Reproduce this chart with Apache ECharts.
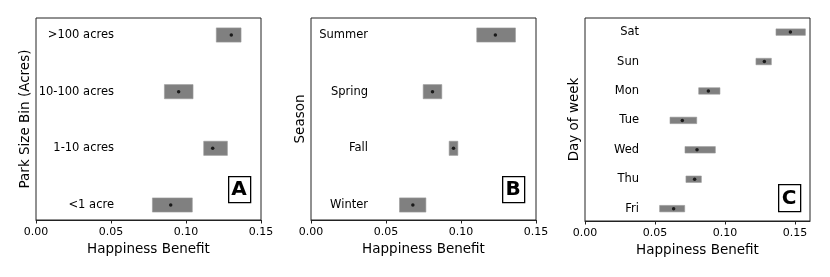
<!DOCTYPE html>
<html>
<head>
<meta charset="utf-8">
<script src="https://cdn.jsdelivr.net/npm/echarts@6/dist/echarts.min.js"></script>
<style>
  html, body { margin: 0; padding: 0; background: #fff; }
  #chart { width: 830px; height: 277px; }
</style>
</head>
<body>
<div id="chart"></div>
<script>
// ---------------- data ----------------
const xTicks = [0, 0.05, 0.10, 0.15];

const parkCats = ['<1 acre', '1-10 acres', '10-100 acres', '>100 acres'];
const parkMean = [0.0898, 0.1178, 0.0951, 0.1302];
const parkLow  = [0.0776, 0.1118, 0.0856, 0.1202];
const parkHigh = [0.1042, 0.1276, 0.1047, 0.1367];

const seasonCats = ['Winter', 'Fall', 'Spring', 'Summer'];
const seasonMean = [0.0679, 0.0950, 0.0810, 0.1229];
const seasonLow  = [0.0590, 0.0921, 0.0748, 0.1105];
const seasonHigh = [0.0766, 0.0979, 0.0872, 0.1363];

const dayCats = ['Fri', 'Thu', 'Wed', 'Tue', 'Mon', 'Sun', 'Sat'];
const dayMean = [0.0633, 0.0783, 0.0800, 0.0695, 0.0881, 0.1281, 0.1467];
const dayLow  = [0.0533, 0.0721, 0.0714, 0.0607, 0.0812, 0.1221, 0.1364];
const dayHigh = [0.0712, 0.0831, 0.0931, 0.0798, 0.0964, 0.1331, 0.1574];

// ---------------- styling / layout ----------------
const FONT = 'DejaVu Sans';
const TXT = '#000';
const AX = '#222';

const panels = [
  { cats: parkCats, mean: parkMean, low: parkLow, high: parkHigh,
    left: 36, width: 225, top: 18, height: 202, xmax: 0.15,
    ymin: -0.265, ymax: 3.30, boxH: 0.25, labelMargin: 78,
    yName: 'Park Size Bin (Acres)', tag: 'A', tagX: 228, tagY: 176, tagH: 26 },
  { cats: seasonCats, mean: seasonMean, low: seasonLow, high: seasonHigh,
    left: 311, width: 225, top: 18, height: 202, xmax: 0.15,
    ymin: -0.265, ymax: 3.30, boxH: 0.25, labelMargin: 57,
    yName: 'Season', tag: 'B', tagX: 502, tagY: 176, tagH: 26 },
  { cats: dayCats, mean: dayMean, low: dayLow, high: dayHigh,
    left: 585, width: 225, top: 18, height: 203, xmax: 0.1607,
    ymin: -0.42, ymax: 6.48, boxH: 0.22, labelMargin: 54,
    yName: 'Day of week', tag: 'C', tagX: 778, tagY: 184, tagH: 27 }
];

const grid = [], xAxis = [], yAxis = [], series = [], graphic = [];

panels.forEach((p, i) => {
  grid.push({
    left: p.left, top: p.top, width: p.width, height: p.height,
    show: true, borderColor: AX, borderWidth: 1, backgroundColor: 'transparent'
  });
  xAxis.push({
    type: 'value', gridIndex: i, min: 0, max: p.xmax,
    name: 'Happiness Benefit', nameLocation: 'middle', nameGap: 21,
    nameTextStyle: { fontFamily: FONT, fontSize: 13.5, color: TXT },
    axisLine: { show: true, onZero: false, lineStyle: { color: AX, width: 1 } },
    axisTick: { show: true, length: 3.5, lineStyle: { color: AX }, customValues: xTicks },
    axisLabel: { fontFamily: FONT, fontSize: 11, color: TXT, margin: 7,
                 customValues: xTicks, formatter: v => v.toFixed(2) },
    splitLine: { show: false }
  });
  const cats = p.cats;
  yAxis.push({
    type: 'value', gridIndex: i, min: p.ymin, max: p.ymax,
    name: p.yName, nameLocation: 'middle', nameRotate: 90, nameGap: 4,
    nameTextStyle: { fontFamily: FONT, fontSize: 13.5, color: TXT },
    axisLine: { show: false, onZero: false },
    axisTick: { show: false },
    splitLine: { show: false },
    axisLabel: {
      inside: true, align: 'right', margin: p.labelMargin,
      fontFamily: FONT, fontSize: 11.5, color: TXT,
      customValues: cats.map((c, k) => k),
      formatter: v => cats[Math.round(v)]
    }
  });
  const boxData = cats.map((c, k) => [p.low[k], p.high[k], k]);
  const bh = p.boxH;
  series.push({
    type: 'custom', xAxisIndex: i, yAxisIndex: i,
    data: boxData,
    renderItem: (params, api) => {
      const a = api.coord([api.value(0), api.value(2)]);
      const b = api.coord([api.value(1), api.value(2)]);
      const h = api.size([0, bh])[1];
      return {
        type: 'rect',
        shape: { x: a[0], y: a[1] - h / 2, width: b[0] - a[0], height: h },
        style: { fill: '#808080', stroke: '#9a9a9a', lineWidth: 0.6 }
      };
    },
    silent: true, z: 2
  });
  series.push({
    type: 'scatter', xAxisIndex: i, yAxisIndex: i,
    data: cats.map((c, k) => [p.mean[k], k]),
    symbol: 'circle', symbolSize: 3.5,
    itemStyle: { color: '#000' }, silent: true, z: 3
  });
  graphic.push({
    type: 'rect', left: p.tagX, top: p.tagY,
    shape: { width: 22, height: p.tagH },
    style: { fill: '#fff', stroke: '#000', lineWidth: 1.3 }, z: 10
  });
  graphic.push({
    type: 'text', x: p.tagX + 11, y: p.tagY + p.tagH / 2 + 1,
    style: { text: p.tag, fontFamily: FONT, fontWeight: 'bold', fontSize: 20,
             fill: '#000', align: 'center', verticalAlign: 'middle' }, z: 11
  });
});

const chart = echarts.init(document.getElementById('chart'), null, { renderer: 'canvas' });
chart.setOption({
  animation: false,
  backgroundColor: '#fff',
  grid, xAxis, yAxis, series, graphic
});
</script>
</body>
</html>
